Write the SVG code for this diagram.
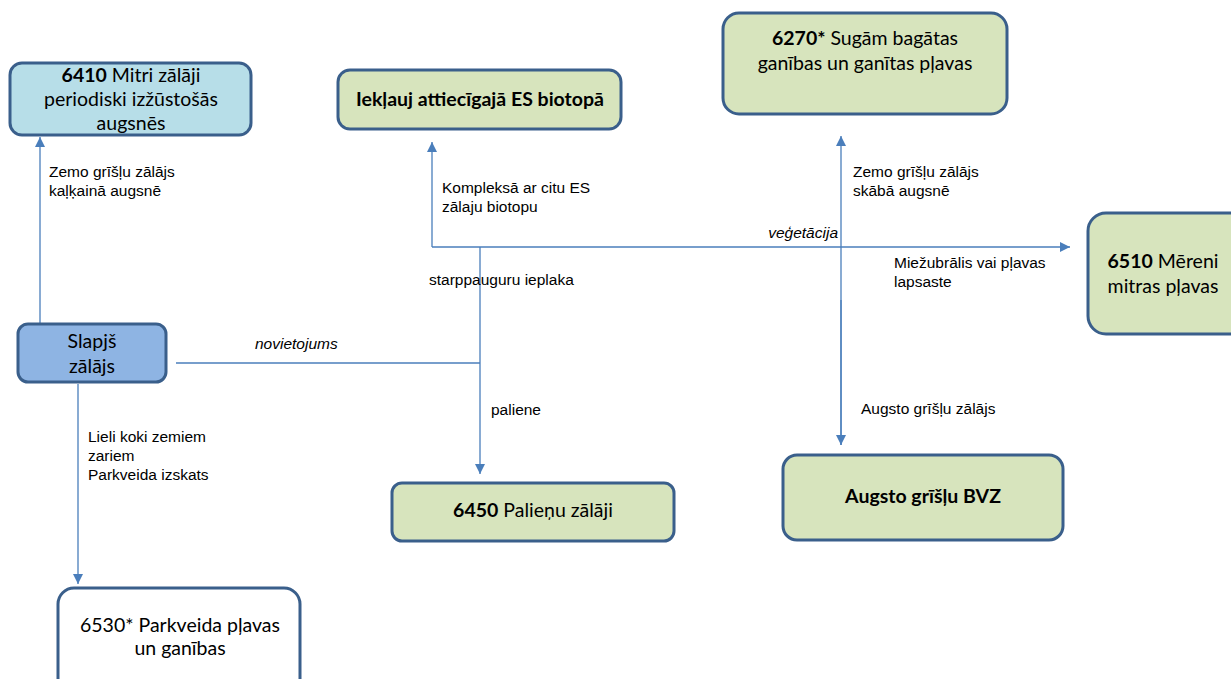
<svg xmlns="http://www.w3.org/2000/svg" width="1231" height="679" viewBox="0 0 1231 679">
<style>
.box{stroke:#3a5f8b;stroke-width:3}
.g{fill:#d7e4bd}
.lb{fill:#b7dee8}
.mb{fill:#8eb4e3}
.w{fill:#ffffff}
.nt{font-family:Lato,"Liberation Sans",sans-serif;font-size:19.5px;fill:#000;text-anchor:middle}
.b{font-weight:bold}
.lbl{font-family:"Liberation Sans",Arial,sans-serif;font-size:15.5px;fill:#000}
.it{font-style:italic}
.c{fill:none;stroke:#4a7ebb;stroke-width:1.3}
</style>
<defs>
<marker id="ah" viewBox="0 0 10 10" refX="10" refY="5" markerWidth="10" markerHeight="10" markerUnits="userSpaceOnUse" orient="auto">
<path d="M0,0 L10,5 L0,10 z" fill="#4a7ebb"/>
</marker>
</defs>
<rect width="1231" height="679" fill="#ffffff"/>
<g id="connectors">
<path class="c" d="M40,324 V137" marker-end="url(#ah)"/>
<path class="c" d="M78,384 V584" marker-end="url(#ah)"/>
<path class="c" d="M176,363 H480"/>
<path class="c" d="M480,247 V474" marker-end="url(#ah)"/>
<path class="c" d="M432,247 V142" marker-end="url(#ah)"/>
<path class="c" d="M432,247 H1070" marker-end="url(#ah)"/>
<path class="c" d="M841,445 V136" marker-end="url(#ah)"/>
<path class="c" d="M841,300 V445" marker-end="url(#ah)"/>
</g>
<g id="labels">
<text class="lbl" x="49" y="177">Zemo grīšļu zālājs</text>
<text class="lbl" x="49" y="196">kaļķainā augsnē</text>
<text class="lbl" x="442" y="193">Kompleksā ar citu ES</text>
<text class="lbl" x="442" y="212">zālaju biotopu</text>
<text class="lbl" x="853" y="177">Zemo grīšļu zālājs</text>
<text class="lbl" x="853" y="196">skābā augsnē</text>
<text class="lbl it" x="838" y="238" text-anchor="end">veģetācija</text>
<text class="lbl" x="894" y="268">Miežubrālis vai pļavas</text>
<text class="lbl" x="894" y="287">lapsaste</text>
<text class="lbl" x="429" y="285">starppauguru ieplaka</text>
<text class="lbl it" x="255" y="349">novietojums</text>
<text class="lbl" x="491" y="415">paliene</text>
<text class="lbl" x="88" y="442">Lieli koki zemiem</text>
<text class="lbl" x="88" y="461">zariem</text>
<text class="lbl" x="88" y="480">Parkveida izskats</text>
<text class="lbl" x="861" y="414">Augsto grīšļu zālājs</text>
</g>
<g id="n6410">
<rect class="box lb" x="10" y="63" width="241" height="72" rx="12"/>
<text class="nt" x="131" y="82"><tspan class="b">6410</tspan> Mitri zālāji</text>
<text class="nt" x="131" y="106">periodiski izžūstošās</text>
<text class="nt" x="131" y="130">augsnēs</text>
</g>
<g id="nES">
<rect class="box g" x="338" y="70" width="283" height="59" rx="12"/>
<text class="nt b" x="480" y="106">Iekļauj attiecīgajā ES biotopā</text>
</g>
<g id="n6270">
<rect class="box g" x="723" y="13" width="284" height="101" rx="16"/>
<text class="nt" x="865" y="45"><tspan class="b">6270*</tspan> Sugām bagātas</text>
<text class="nt" x="865" y="70">ganības un ganītas pļavas</text>
</g>
<g id="n6510">
<rect class="box g" x="1088" y="213" width="160" height="121" rx="18"/>
<text class="nt" x="1163" y="268"><tspan class="b">6510</tspan> Mēreni</text>
<text class="nt" x="1163" y="293">mitras pļavas</text>
</g>
<g id="nSlapjs">
<rect class="box mb" x="18" y="324" width="148" height="58" rx="10"/>
<text class="nt" x="92" y="348">Slapjš</text>
<text class="nt" x="92" y="373">zālājs</text>
</g>
<g id="n6450">
<rect class="box g" x="392" y="483" width="282" height="58" rx="10"/>
<text class="nt" x="533" y="517"><tspan class="b">6450</tspan> Palieņu zālāji</text>
</g>
<g id="nBVZ">
<rect class="box g" x="783" y="455" width="280" height="85" rx="14"/>
<text class="nt b" x="923" y="503">Augsto grīšļu BVZ</text>
</g>
<g id="n6530">
<rect class="box w" x="58" y="588" width="242" height="110" rx="16"/>
<text class="nt" x="180" y="632">6530* Parkveida pļavas</text>
<text class="nt" x="180" y="655">un ganības</text>
</g>
</svg>
